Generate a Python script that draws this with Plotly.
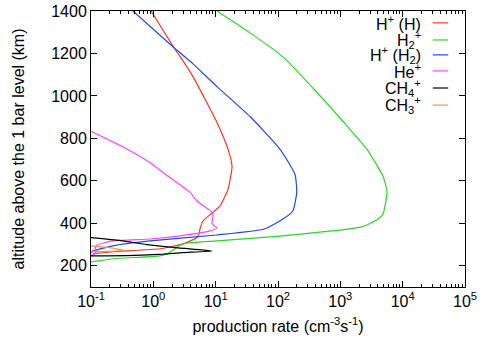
import plotly.graph_objects as go

# ---- data (production rate, altitude km) ----
hH_x = [0.92, 2.15, 3.22, 4.33, 10.5, 15.8, 18.3, 15.8, 11.7, 6.27, 5.6, 5.2, 3.0, 1.28, 0.225, 0.108]
hH_y = [1400, 1227, 1151, 1091, 875, 748, 669, 561, 481, 411, 373, 336, 303, 280, 266, 256]

h2p_x = [10.5, 35.6, 120, 423, 1430, 2680, 4840, 5610, 4840, 4030, 2230, 120, 10.5, 3.0, 1.66, 1.28, 0.225, 0.104, 0.09]
h2p_y = [1400, 1297, 1184, 1016, 842, 748, 622, 547, 444, 420, 383, 341, 317, 303, 256, 247, 233, 219, 218]

hH2_x = [0.47, 2.15, 4.33, 10.5, 35.6, 108, 187, 200, 173, 120, 60, 10.5, 0.885, 0.225, 0.108, 0.095]
hH2_y = [1400, 1227, 1151, 1044, 903, 748, 631, 547, 458, 420, 373, 345, 317, 294, 270, 258]

hep_x = [0.1, 0.39, 0.82, 1.72, 3.87, 5.0, 8.7, 9.1, 8.7, 10.5, 8.1, 2.7, 0.885, 0.225, 0.12, 0.115, 0.1]
hep_y = [833, 748, 692, 622, 547, 505, 453, 434, 400, 378, 364, 341, 326, 317, 294, 256, 250]

ch4_x = [0.08, 0.3, 0.79, 2.5, 8.7, 3.0, 1.43, 0.5, 0.08]
ch4_y = [335, 318, 300, 284, 270, 262, 255, 249, 246]

ch3_x = [0.08, 0.2, 0.35, 0.2, 0.1, 0.08]
ch3_y = [296, 285, 272, 268, 265, 264]

series = [
    ("H<sup>+</sup> (H)", hH_x, hH_y, "#ff3322"),
    ("H<sub>2</sub><sup>+</sup>", h2p_x, h2p_y, "#22dd22"),
    ("H<sup>+</sup> (H<sub>2</sub>)", hH2_x, hH2_y, "#2244ff"),
    ("He<sup>+</sup>", hep_x, hep_y, "#ff44ff"),
    ("CH<sub>4</sub><sup>+</sup>", ch4_x, ch4_y, "#000000"),
    ("CH<sub>3</sub><sup>+</sup>", ch3_x, ch3_y, "#ff8c40"),
]

x_tickvals = [0.1, 1, 10, 100, 1000, 10000, 100000]
x_ticktext = ["10<sup>-1</sup>", "10<sup>0</sup>", "10<sup>1</sup>", "10<sup>2</sup>",
              "10<sup>3</sup>", "10<sup>4</sup>", "10<sup>5</sup>"]
y_tickvals = [200, 400, 600, 800, 1000, 1200, 1400]

FONT = "Liberation Sans, Arial, Helvetica, sans-serif"
FS = 16

fig = go.Figure()
for name, xs, ys, col in series:
    fig.add_trace(go.Scatter(x=xs, y=ys, mode="lines", name=name,
                             line=dict(color=col, width=1.2, shape="spline", smoothing=0.5),
                             showlegend=False))

# custom gnuplot-style key (text right, sample line to its right)
row_y = [0.957, 0.895, 0.841, 0.783, 0.721, 0.659]
for (name, xs, ys, col), ry in zip(series, row_y):
    fig.add_annotation(x=0.888, y=ry, xref="paper", yref="paper", text=name,
                       showarrow=False, xanchor="right", yanchor="middle",
                       font=dict(family=FONT, size=FS, color="black"))
    fig.add_shape(type="line", xref="paper", yref="paper", x0=0.914, x1=0.955,
                  y0=ry, y1=ry, line=dict(color=col, width=1.2))

minor_vals = [m * 10 ** e for e in range(-1, 5) for m in range(2, 10)]

fig.update_layout(
    width=485, height=343,
    margin=dict(l=91, r=20, t=11, b=56),
    paper_bgcolor="white", plot_bgcolor="white",
    font=dict(family=FONT, size=FS, color="black"),
    xaxis=dict(type="log", range=[-1, 5], tickvals=x_tickvals, ticktext=x_ticktext,
               ticks="inside", ticklen=6, tickcolor="black", showgrid=False, zeroline=False,
               showline=True, linecolor="black", linewidth=1, mirror="allticks", automargin=False,
               minor=dict(ticks="inside", ticklen=3, tickcolor="black", tickvals=minor_vals, showgrid=False),
               title=dict(text="production rate (cm<sup>-3</sup>s<sup>-1</sup>)", standoff=11,
                          font=dict(size=FS)),
               tickfont=dict(size=FS)),
    yaxis=dict(range=[100, 1400], tickvals=y_tickvals,
               ticks="inside", ticklen=6, tickcolor="black", showgrid=False, zeroline=False,
               showline=True, linecolor="black", linewidth=1, mirror="allticks", automargin=False,
               title=dict(text="altitude above the 1 bar level (km)", standoff=22, font=dict(size=FS)),
               tickfont=dict(size=FS)),
)

fig.write_html("out.html")
